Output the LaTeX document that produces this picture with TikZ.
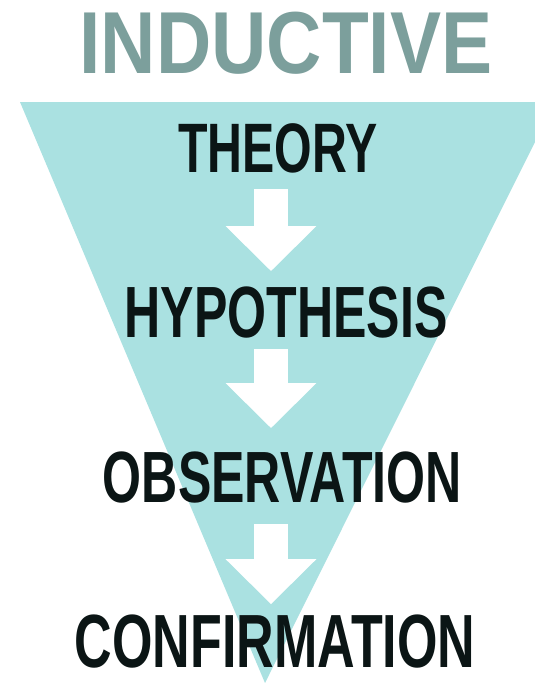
\documentclass[tikz,border=0pt]{standalone}
\usepackage{fontspec}
\usetikzlibrary{arrows.meta}
\newfontfamily\titleFont[FakeStretch=0.87]{Liberation Sans}
\newfontfamily\stageFont[FakeStretch=0.69]{Liberation Sans}
\definecolor{indTitleText}{HTML}{7C9F9C}
\definecolor{indFunnelFill}{HTML}{AAE1E1}
\definecolor{indStageText}{HTML}{0B1515}
\definecolor{indArrowFill}{HTML}{FFFFFF}

\begin{document}
\begin{tikzpicture}[
  x=1pt, y=-1pt,
  title/.style={
    anchor=base,
    inner sep=0pt,
    text=indTitleText,
    font=\titleFont\bfseries\fontsize{88}{96}\selectfont
  },
  stage/.style={
    anchor=base,
    inner sep=0pt,
    text=indStageText,
    font=\stageFont\bfseries\fontsize{#1}{80}\selectfont
  },
  arrStage/.style={-{Triangle[length=45pt, width=88pt]}, indArrowFill, line width=34pt}
]

  \useasboundingbox (0,0) rectangle (535,683);
  \clip (0,0) rectangle (535,683);

  % funnel
  \fill[indFunnelFill] (20,102) -- (555,102) -- (265,683) -- cycle;

  \node[title] (T) at (286,73) {INDUCTIVE};
  \node[stage=70] (S1) at (278,172) {THEORY};
  \node[stage=72.6] (S2) at (286,337) {HYPOTHESIS};
  \node[stage=72.6] (S3) at (282.5,502) {OBSERVATION};
  \node[stage=75.4] (S4) at (275,667) {CONFIRMATION};

  \coordinate (axis) at (271,0);

  \draw[arrStage, shorten <=16pt, shorten >=15pt] (S1.south -| axis) -- (S2.north -| axis);
  \draw[arrStage, shorten <=11pt, shorten >=23pt] (S2.south -| axis) -- (S3.north -| axis);
  \draw[arrStage, shorten <=21pt, shorten >=10pt] (S3.south -| axis) -- (S4.north -| axis);

\end{tikzpicture}
\end{document}
